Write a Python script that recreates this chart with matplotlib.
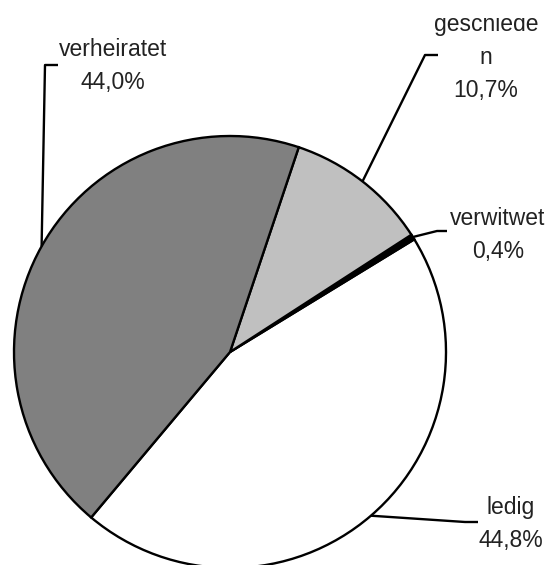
import numpy as np
import matplotlib
matplotlib.use('Agg')
import matplotlib.pyplot as plt
from matplotlib.transforms import Bbox, TransformedBbox

# Familienstand, Anteile in Prozent
categories = ['ledig', 'verwitwet', 'geschieden', 'verheiratet']
shares = [44.8, 0.4, 10.7, 44.0]
label_texts = ['ledig\n44,8%', 'verwitwet\n0,4%', 'geschiede\nn\n10,7%', 'verheiratet\n44,0%']
colors = ['#ffffff', '#000000', '#c0c0c0', '#808080']

W, H = 547, 565
plt.rcParams['font.family'] = ['Liberation Sans Narrow', 'Liberation Sans', 'DejaVu Sans']

fig = plt.figure(figsize=(W / 100, H / 100), dpi=100)
ax = fig.add_axes([0, 0, 1, 1])

center = (230, H - 352)
radius = 216
wedges, _ = ax.pie(shares, colors=colors, startangle=230, counterclock=True,
                   center=center, radius=radius,
                   wedgeprops=dict(edgecolor='black', linewidth=1.7))

ax.set_xlim(0, W)
ax.set_ylim(0, H)
ax.set_aspect('equal')
ax.axis('off')

# label layout (pixel coords, y from top): last baseline, elbow, end of tick
layout = {
    'ledig':       dict(text=(511, 547), elbow=(465, 522), end=(478, 522)),
    'verwitwet':   dict(text=(498, 258), elbow=(437, 231), end=(447, 231)),
    'geschieden':  dict(text=(486, 97), elbow=(425, 55), end=(438, 55)),
    'verheiratet': dict(text=(113, 89), elbow=(45, 65), end=(58, 65)),
}

# the label box of "geschieden" cuts off the top of its first line
clip_box = TransformedBbox(Bbox([[400, 0], [W, H - 18]]), ax.transData)

for w, cat, lab in zip(wedges, categories, label_texts):
    mid = np.deg2rad((w.theta1 + w.theta2) / 2)
    ax_x = center[0] + radius * np.cos(mid)
    ax_y = center[1] + radius * np.sin(mid)
    lo = layout[cat]
    xs = [ax_x, lo['elbow'][0], lo['end'][0]]
    ys = [ax_y, H - lo['elbow'][1], H - lo['end'][1]]
    ax.plot(xs, ys, color='black', lw=1.7, solid_capstyle='butt', clip_on=False)
    t = ax.text(lo['text'][0], H - lo['text'][1], lab, ha='center', va='baseline',
                fontsize=16.5, color='#222222', linespacing=1.55, multialignment='center')
    if cat == 'geschieden':
        t.set_clip_path(None)
        t.set_clip_box(clip_box)
        t.set_clip_on(True)

fig.savefig('out.png', dpi=100)
